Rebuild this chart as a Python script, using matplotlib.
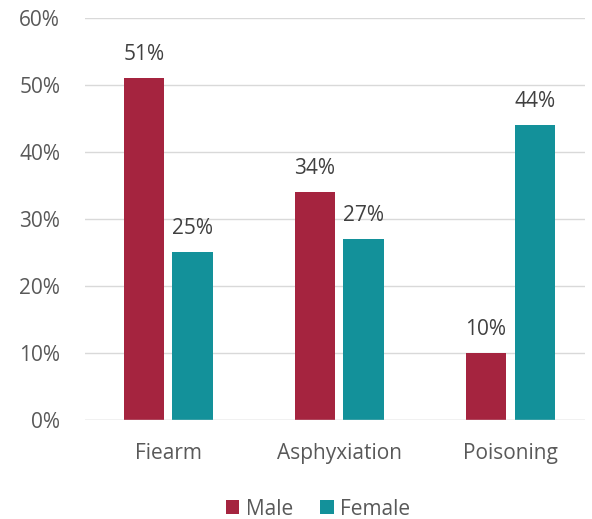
import numpy as np
import matplotlib
matplotlib.use('Agg')
import matplotlib.pyplot as plt

plt.rcParams['font.family'] = ['Open Sans', 'DejaVu Sans']

categories = ['Fiearm', 'Asphyxiation', 'Poisoning']
male = [51, 34, 10]
female = [25, 27, 44]
yticks = [0, 10, 20, 30, 40, 50, 60]

male_color = '#A5243F'
female_color = '#13919A'
text_color = '#595959'

fig = plt.figure(figsize=(5.92, 5.19), dpi=100)
ax = fig.add_axes([0.144, 0.191, 0.845, 0.774])

x = np.arange(len(categories))
w = 0.235
gap = 0.05
b1 = ax.bar(x - (w + gap) / 2, male, w, color=male_color, label='Male', zorder=3)
b2 = ax.bar(x + (w + gap) / 2, female, w, color=female_color, label='Female', zorder=3)

for bars, vals in [(b1, male), (b2, female)]:
    for b, v in zip(bars, vals):
        ax.text(b.get_x() + b.get_width() / 2, v + 2.0, '%d%%' % v,
                ha='center', va='bottom', fontsize=15, color='#404040')

ax.set_xlim(-0.485, 2.44)
ax.set_ylim(0, 60)
ax.set_yticks(yticks)
ax.set_yticklabels(['%d%%' % t for t in yticks])
ax.set_xticks(x)
ax.set_xticklabels(categories)
ax.tick_params(axis='both', length=0, labelsize=15, colors=text_color)
ax.tick_params(axis='y', pad=18)
ax.tick_params(axis='x', pad=17)
ax.yaxis.grid(True, color='#D9D9D9', linewidth=1, zorder=0)
for s in ax.spines.values():
    s.set_visible(False)
ax.axhline(0, color='#D9D9D9', linewidth=1, zorder=4)

fig.legend(handles=[b1, b2], loc='center', bbox_to_anchor=(0.537, 0.019),
           ncol=2, frameon=False, fontsize=15, handlelength=0.65, handleheight=0.65,
           columnspacing=1.3, handletextpad=0.3, labelcolor=text_color)

fig.savefig('out.png', dpi=100)
